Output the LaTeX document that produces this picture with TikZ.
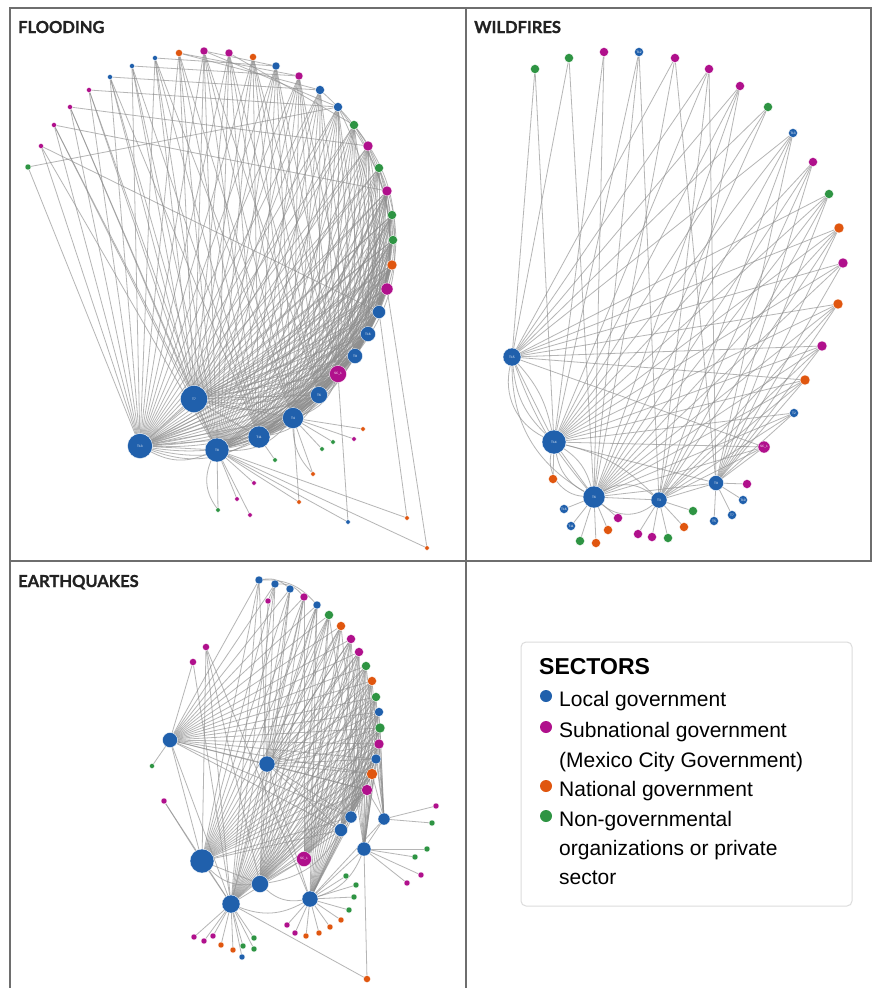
\documentclass[tikz,border=0pt]{standalone}
\usepackage{fontspec}
\setmainfont{Liberation Sans}
\newfontfamily\titlefont[FakeBold=1.2]{Lato}
\usetikzlibrary{backgrounds}
\definecolor{locb}{HTML}{2060AC}
\definecolor{subm}{HTML}{B0108C}
\definecolor{nato}{HTML}{E0560F}
\definecolor{ngog}{HTML}{2E9443}
\definecolor{edg}{HTML}{8E8E8E}
\definecolor{frm}{HTML}{6E6E6E}
\definecolor{ttl}{HTML}{222222}
\definecolor{lgline}{HTML}{DCDCDC}
\begin{document}
\begin{tikzpicture}[x=1pt,y=-1pt,
  nd/.style={circle,inner sep=0pt,draw=white,line width=0.3pt,text=white,font=\fontsize{3.2}{3.2}\selectfont},
  L/.style={nd,fill=locb,minimum size=#1pt},
  S/.style={nd,fill=subm,minimum size=#1pt},
  N/.style={nd,fill=nato,minimum size=#1pt},
  G/.style={nd,fill=ngog,minimum size=#1pt},
  ed/.style={draw=edg,line width=0.8pt,opacity=0.65},
  frame/.style={draw=frm,line width=1.6pt},
  ptitle/.style={anchor=base west,inner sep=0pt,text=ttl,font=\titlefont\bfseries\fontsize{16.5}{18}\selectfont},
  lgtext/.style={anchor=base west,inner sep=0pt,font=\fontsize{21}{24}\selectfont},
  lgdot/.style={circle,inner sep=0pt,minimum size=12pt}]
\useasboundingbox (0,0) rectangle (872,988);
\begin{pgfonlayer}{background}
\fill[white] (0,0) rectangle (872,988);
\end{pgfonlayer}

% ---------------- frames and titles
\draw[frame] (10,8) rectangle (466,561);
\draw[frame] (466,8) rectangle (871,561);
\draw[frame] (10,561) -- (10,989);
\draw[frame] (466,561) -- (466,989);
\node[ptitle] (tf) at (18,33) {FLOODING};
\node[ptitle] (tw) at (474,33) {WILDFIRES};
\node[ptitle] (te) at (18,587) {EARTHQUAKES};

% ---------------- FLOODING
\node[G=6] (fa1) at (28,167) {};
\node[S=5] (fa2) at (41,146) {};
\node[S=5] (fa3) at (54,125) {};
\node[S=5] (fa4) at (70,107) {};
\node[S=5] (fa5) at (89,90) {};
\node[L=5] (fa6) at (110,77) {};
\node[L=5] (fa7) at (132,66) {};
\node[L=5] (fa8) at (155,58) {};
\node[N=7] (fa9) at (179,53) {};
\node[S=8] (fa10) at (204,51) {};
\node[S=8] (fa11) at (229,53) {};
\node[N=7] (fa12) at (253,57) {};
\node[L=8] (fa13) at (276,66) {};
\node[S=8] (fa14) at (299,76) {};
\node[L=9] (fa15) at (320,90) {};
\node[L=9] (fa16) at (338,107) {};
\node[G=9] (fa17) at (354,125) {};
\node[S=10] (fa18) at (368,146) {};
\node[G=9] (fa19) at (379,168) {};
\node[S=10] (fa20) at (387,191) {};
\node[G=9] (fa21) at (392,215) {};
\node[G=9] (fa22) at (393,240) {};
\node[N=10] (fa23) at (392,265) {};
\node[S=12] (fa24) at (387,289) {};
\node[L=13] (fa25) at (379,312) {};
\node[L=15] (fa26) at (368,334) {T16};
\node[L=15] (fa27) at (355,356) {T9};
\node[S=17] (fa28) at (338,374) {SC\_1};
\node[L=17] (fa29) at (319,395) {T6};
\node[L=21] (fa30) at (293,418) {T4};
\node[L=22] (fa31) at (259,437) {T11};
\node[L=24] (fa32) at (217,450) {T8};
\node[L=27] (fT7) at (194,399) {T7};
\node[L=25] (fT13) at (140,446) {T13};

\begin{pgfonlayer}{background}
\foreach \h/\a/\b in {fT13/1/32, fT7/3/32, fa32/2/31, fa31/6/30, fa30/8/29, fa29/10/28, fa28/12/27, fa27/14/26, fa26/16/25, fa25/17/24}
  {\foreach \i in {\a,...,\b} {\draw[ed] (\h) -- (fa\i);}}
\foreach \p/\q in {fa1/fa16, fa5/fa16, fa2/fa25, fa6/fa15, fa7/fa14, fa8/fa13, fa9/fa15, fa10/fa16, fa11/fa17, fa4/fa18, fT13/fT7, fa3/fa20, fa9/fa14, fa10/fa13}
  {\draw[ed] (\p) -- (\q);}
\foreach \h in {fT13, fa32, fa31, fT7}
  {\foreach \i in {20,...,29} {\draw[ed] (\h) to[bend right=18] (fa\i);}}
\foreach \i/\j in {15/22, 16/24, 17/25, 18/26, 19/27, 20/28, 21/29, 22/30, 23/31, 24/32, 17/23, 19/25, 21/27, 18/29, 16/27, 20/31, 22/32}
  {\draw[ed] (fa\i) to[bend left=22] (fa\j);}
\foreach \p/\q in {fT13/fa32, fT13/fa31, fT13/fa30, fa32/fa30, fa31/fa29, fa30/fa28, fT13/fa29}
  {\draw[ed] (\p) to[bend right=25] (\q);}
\end{pgfonlayer}

\foreach \x/\y/\c/\h [count=\k] in {363/429/nato/fa30, 354/439/subm/fa30, 333/442/ngog/fa30, 322/449/ngog/fa30, 275/460/ngog/fa31, 313/474/nato/fa30, 254/483/subm/fa32, 237/499/subm/fa32, 218/510/ngog/fa32, 250/515/subm/fa32, 299/502/nato/fa30, 348/522/locb/fa28, 407/518/nato/fa25, 427/548/nato/fa24}
  {\node[nd,fill=\c,minimum size=4.5pt] (fl\k) at (\x,\y) {};
   \begin{pgfonlayer}{background}\draw[ed] (\h) -- (fl\k);\end{pgfonlayer}}
\begin{pgfonlayer}{background}
\foreach \q in {fl11, fl12, fl13, fl14} {\draw[ed] (fa32) -- (\q);}
\draw[ed] (fa32) to[bend right=30] (fl9);
\draw[ed] (fa30) to[bend right=20] (fl6);
\end{pgfonlayer}

% ---------------- WILDFIRES
\node[G=9] (wa1) at (535,69) {};
\node[G=9] (wa2) at (569,58) {};
\node[S=9] (wa3) at (604,52) {};
\node[L=9] (wa4) at (639,52) {T12};
\node[S=9] (wa5) at (675,58) {};
\node[S=9] (wa6) at (709,69) {};
\node[S=9] (wa7) at (740,86) {};
\node[G=9] (wa8) at (768,107) {};
\node[L=9] (wa9) at (793,133) {T13};
\node[S=9] (wa10) at (813,162) {};
\node[G=9] (wa11) at (829,194) {};
\node[N=10] (wa12) at (839,228) {};
\node[S=10] (wa13) at (843,263) {};
\node[N=10] (wa14) at (838,304) {};
\node[S=10] (wa15) at (822,346) {};
\node[N=10] (wa16) at (805,380) {};
\node[L=9] (wa17) at (794,413) {T2};
\node[S=12] (wa18) at (764,447) {SC\_1};
\node[L=18] (wT15) at (512,357) {T15};
\node[L=24] (wT14) at (554,442) {T14};
\node[L=22] (wT6) at (594,497) {T6};
\node[L=16] (wT3) at (659,500) {T3};
\node[L=15] (wT9) at (716,483) {T9};

\begin{pgfonlayer}{background}
\foreach \a/\hs in {wa1/{wT15,wT14}, wa2/{wT15,wT6}, wa3/{wT14,wT6}, wa4/{wT14,wT6,wT3},
  wa5/{wT15,wT6,wT9}, wa6/{wT15,wT14,wT3,wT9}, wa7/{wT15,wT14,wT6,wT3}, wa8/{wT15,wT14,wT6},
  wa9/{wT15,wT14,wT6,wT3,wT9}, wa10/{wT14,wT6,wT9,wT3}, wa11/{wT15,wT14,wT6,wT3,wT9},
  wa12/{wT15,wT14,wT6,wT3,wT9}, wa13/{wT15,wT14,wT6,wT9}, wa14/{wT15,wT14,wT6,wT3,wT9},
  wa15/{wT15,wT14,wT6,wT3,wT9}, wa16/{wT15,wT14,wT6,wT3,wT9}, wa17/{wT14,wT6,wT3,wT9},
  wa18/{wT15,wT14,wT6,wT3,wT9}}
  {\foreach \h in \hs {\draw[ed] (\a) -- (\h);}}
\foreach \p/\q/\bb in {wT15/wT14/0, wT15/wT14/-20, wT15/wT14/-38, wT15/wT14/15, wT14/wT6/0, wT14/wT6/-25, wT14/wT6/20, wT15/wT6/-30, wT6/wT3/0, wT6/wT3/-40, wT6/wT3/35, wT14/wT3/15, wT6/wT9/0, wT14/wT9/0, wT3/wT9/0, wT14/wT6/-50, wT15/wT6/-10}
  {\draw[ed] (\p) to[bend left=\bb] (\q);}
\end{pgfonlayer}

\foreach \x/\y/\c/\h/\t [count=\k] in {553/479/nato/wT14/, 564/509/locb/wT6/T16, 571/526/locb/wT6/T11, 580/541/ngog/wT6/, 596/543/nato/wT6/, 608/530/nato/wT6/, 618/518/subm/wT6/,
  638/534/subm/wT3/, 652/537/subm/wT3/, 668/538/ngog/wT3/, 684/527/nato/wT3/, 693/511/ngog/wT3/,
  747/484/subm/wT9/, 743/500/locb/wT9/T10, 732/515/locb/wT9/T7, 714/521/locb/wT9/T5}
  {\node[nd,fill=\c,minimum size=9pt] (wl\k) at (\x,\y) {\t};
   \begin{pgfonlayer}{background}\draw[ed] (\h) -- (wl\k);\end{pgfonlayer}}

% ---------------- EARTHQUAKES
\node[L=8] (ea1) at (259,580) {};
\node[L=8] (ea2) at (275,584) {};
\node[L=8] (ea3) at (290,589) {};
\node[S=8] (ea4) at (304,597) {};
\node[L=8] (ea5) at (317,605) {};
\node[G=9] (ea6) at (329,615) {};
\node[N=9] (ea7) at (341,626) {};
\node[S=9] (ea8) at (351,639) {};
\node[S=9] (ea9) at (359,652) {};
\node[G=9] (ea10) at (366,666) {};
\node[N=9] (ea11) at (372,681) {};
\node[G=9] (ea12) at (376,697) {};
\node[L=9] (ea13) at (379,712) {};
\node[G=10] (ea14) at (380,728) {};
\node[S=10] (ea15) at (379,744) {};
\node[L=10] (ea16) at (376,759) {};
\node[N=11] (ea17) at (372,774) {};
\node[S=11] (ea18) at (367,790) {};
\node[L=12] (ea19) at (351,817) {};
\node[L=13] (ea20) at (341,830) {};
\node[L=14] (ea21) at (364,849) {};
\node[L=12] (eR) at (384,819) {};
\node[S=15] (eSC) at (304,859) {SC\_1};
\node[L=24] (eT6) at (202,861) {};
\node[L=17] (eB) at (260,884) {};
\node[L=18] (eC) at (231,904) {};
\node[L=16] (eD) at (310,899) {};
\node[L=16] (eM) at (267,764) {};
\node[L=15] (eL) at (170,740) {};
\node[G=5] (es1) at (152,766) {};
\node[S=6] (es2) at (268,601) {};
\node[S=7] (es3) at (206,647) {};
\node[S=7] (es4) at (193,662) {};
\node[S=6] (es5) at (164,801) {};
\node[N=7] (es6) at (367,979) {};

\begin{pgfonlayer}{background}
\foreach \h/\a/\b in {eL/1/20, eM/1/20, eT6/1/20, eB/3/20, eC/1/18, eD/5/20, eSC/4/18, ea21/6/18, ea20/8/18, eR/10/18, ea19/9/17}
  {\foreach \i in {\a,...,\b} {\draw[ed] (\h) -- (ea\i);}}
\foreach \p/\q in {eL/eM, eL/eT6, eT6/eC, eT6/eB, eM/eC, eM/eB, eSC/eC, eSC/eB, eM/eD, eL/eC,
  es1/eL, es4/eL, es3/eT6, es3/eB, es3/eD, es3/eC, es4/eC, es2/ea2, es2/eB, es5/eC, es5/eT6, ea21/es6, eC/es6, eD/ea21, eR/ea21, eR/eD}
  {\draw[ed] (\p) -- (\q);}
\foreach \p/\q in {ea1/ea3, ea2/ea4, ea1/ea5, eD/eC, eD/eB, eB/eT6, ea21/eD, ea20/eB}
  {\draw[ed] (\p) to[bend left=25] (\q);}
\end{pgfonlayer}

\foreach \x/\y/\c/\h [count=\k] in {436/806/subm/eR, 432/823/ngog/eR,
  427/849/ngog/ea21, 415/857/ngog/ea21, 421/875/subm/ea21, 407/883/subm/ea21,
  346/876/ngog/eD, 356/885/ngog/eD, 354/897/ngog/eD, 349/910/ngog/eD, 341/920/nato/eD, 330/927/nato/eD, 319/933/nato/eD, 306/936/nato/eD, 295/933/subm/eD, 287/925/subm/eD,
  194/937/subm/eC, 204/941/subm/eC, 213/936/subm/eC, 221/945/nato/eC, 233/950/nato/eC, 243/946/ngog/eC, 254/938/ngog/eC, 254/949/ngog/eC, 242/957/locb/eC}
  {\node[nd,fill=\c,minimum size=6pt] (el\k) at (\x,\y) {};
   \begin{pgfonlayer}{background}\draw[ed] (\h) -- (el\k);\end{pgfonlayer}}

% ---------------- LEGEND
\draw[draw=lgline,line width=1pt,rounded corners=5pt] (521,642) rectangle (852,906);
\node[anchor=base west,inner sep=0pt,font=\bfseries\fontsize{23}{27}\selectfont] (lgt) at (539,674) {SECTORS};
\node[lgdot,fill=locb] (d1) at (546,696) {};
\node[lgdot,fill=subm] (d2) at (546,727) {};
\node[lgdot,fill=nato] (d3) at (546,786) {};
\node[lgdot,fill=ngog] (d4) at (546,816) {};
\node[lgtext] (t1) at (559,706) {Local government};
\node[lgtext] (t2) at (559,737) {Subnational government};
\node[lgtext] (t2b) at (559,767) {(Mexico City Government)};
\node[lgtext] (t3) at (559,796) {National government};
\node[lgtext] (t4) at (559,826) {Non-governmental};
\node[lgtext] (t4b) at (559,855) {organizations or private};
\node[lgtext] (t4c) at (559,884) {sector};
\end{tikzpicture}
\end{document}
